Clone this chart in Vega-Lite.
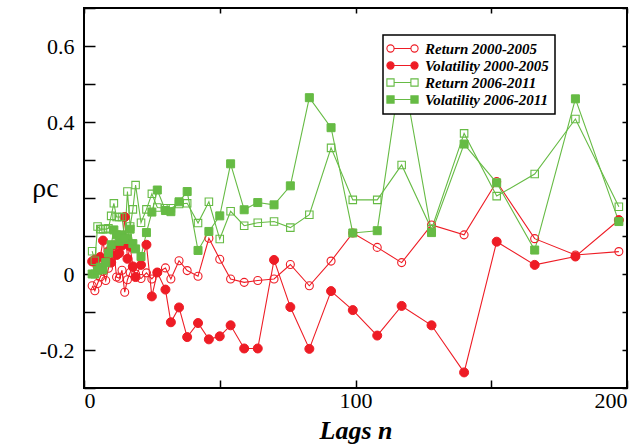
{
  "$schema": "https://vega.github.io/schema/vega-lite/v6.json",
  "width": 543,
  "height": 380,
  "autosize": {"type": "none"},
  "padding": {"left": 84, "top": 8, "right": 17, "bottom": 56},
  "config": {
    "view": {"stroke": "black", "strokeWidth": 2},
    "font": "Liberation Serif, Times New Roman, DejaVu Serif, serif",
    "axis": {"grid": false, "domain": false, "tickColor": "black", "tickWidth": 1.5, "labelFont": "Liberation Serif, Times New Roman, DejaVu Serif, serif", "labelFontSize": 22, "labelColor": "black", "titleColor": "black"}
  },
  "data": {
    "values": [
      {"n": 3, "Return 2000-2005": -0.031, "Volatility 2000-2005": 0.033, "Return 2006-2011": 0.06, "Volatility 2006-2011": 0.0},
      {"n": 4, "Return 2000-2005": -0.044, "Volatility 2000-2005": 0.038, "Return 2006-2011": 0.035, "Volatility 2006-2011": 0.0},
      {"n": 5, "Return 2000-2005": -0.025, "Volatility 2000-2005": 0.02, "Return 2006-2011": 0.125, "Volatility 2006-2011": 0.01},
      {"n": 6, "Return 2000-2005": -0.008, "Volatility 2000-2005": 0.045, "Return 2006-2011": 0.118, "Volatility 2006-2011": 0.018},
      {"n": 7, "Return 2000-2005": 0.007, "Volatility 2000-2005": 0.088, "Return 2006-2011": 0.118, "Volatility 2006-2011": 0.011},
      {"n": 8, "Return 2000-2005": -0.017, "Volatility 2000-2005": 0.036, "Return 2006-2011": 0.118, "Volatility 2006-2011": 0.03},
      {"n": 9, "Return 2000-2005": 0.015, "Volatility 2000-2005": 0.06, "Return 2006-2011": 0.12, "Volatility 2006-2011": 0.055},
      {"n": 10, "Return 2000-2005": 0.037, "Volatility 2000-2005": 0.03, "Return 2006-2011": 0.153, "Volatility 2006-2011": 0.077},
      {"n": 11, "Return 2000-2005": 0.06, "Volatility 2000-2005": 0.075, "Return 2006-2011": 0.186, "Volatility 2006-2011": 0.116},
      {"n": 12, "Return 2000-2005": -0.008, "Volatility 2000-2005": 0.05, "Return 2006-2011": 0.15, "Volatility 2006-2011": 0.103},
      {"n": 13, "Return 2000-2005": -0.011, "Volatility 2000-2005": 0.055, "Return 2006-2011": 0.15, "Volatility 2006-2011": 0.086},
      {"n": 14, "Return 2000-2005": 0.01, "Volatility 2000-2005": 0.075, "Return 2006-2011": 0.15, "Volatility 2006-2011": 0.103},
      {"n": 15, "Return 2000-2005": -0.048, "Volatility 2000-2005": 0.15, "Return 2006-2011": 0.09, "Volatility 2006-2011": 0.094},
      {"n": 16, "Return 2000-2005": -0.015, "Volatility 2000-2005": 0.04, "Return 2006-2011": 0.217, "Volatility 2006-2011": 0.094},
      {"n": 17, "Return 2000-2005": 0.004, "Volatility 2000-2005": 0.072, "Return 2006-2011": 0.125, "Volatility 2006-2011": 0.118},
      {"n": 18, "Return 2000-2005": 0.018, "Volatility 2000-2005": 0.02, "Return 2006-2011": 0.17, "Volatility 2006-2011": 0.08},
      {"n": 19, "Return 2000-2005": 0.0, "Volatility 2000-2005": -0.008, "Return 2006-2011": 0.234, "Volatility 2006-2011": 0.066},
      {"n": 21, "Return 2000-2005": -0.012, "Volatility 2000-2005": 0.024, "Return 2006-2011": 0.135, "Volatility 2006-2011": 0.046},
      {"n": 23, "Return 2000-2005": 0.003, "Volatility 2000-2005": 0.077, "Return 2006-2011": 0.17, "Volatility 2006-2011": 0.109},
      {"n": 25, "Return 2000-2005": -0.013, "Volatility 2000-2005": -0.059, "Return 2006-2011": 0.211, "Volatility 2006-2011": 0.163},
      {"n": 27, "Return 2000-2005": 0.004, "Volatility 2000-2005": 0.004, "Return 2006-2011": 0.175, "Volatility 2006-2011": 0.221},
      {"n": 30, "Return 2000-2005": 0.016, "Volatility 2000-2005": -0.041, "Return 2006-2011": 0.173, "Volatility 2006-2011": 0.167},
      {"n": 32, "Return 2000-2005": -0.013, "Volatility 2000-2005": -0.127, "Return 2006-2011": 0.173, "Volatility 2006-2011": 0.164},
      {"n": 35, "Return 2000-2005": 0.035, "Volatility 2000-2005": -0.088, "Return 2006-2011": 0.184, "Volatility 2006-2011": 0.19},
      {"n": 38, "Return 2000-2005": 0.009, "Volatility 2000-2005": -0.166, "Return 2006-2011": 0.186, "Volatility 2006-2011": 0.217},
      {"n": 42, "Return 2000-2005": -0.006, "Volatility 2000-2005": -0.129, "Return 2006-2011": 0.134, "Volatility 2006-2011": 0.062},
      {"n": 46, "Return 2000-2005": 0.094, "Volatility 2000-2005": -0.172, "Return 2006-2011": 0.19, "Volatility 2006-2011": 0.112},
      {"n": 50, "Return 2000-2005": 0.039, "Volatility 2000-2005": -0.164, "Return 2006-2011": 0.092, "Volatility 2006-2011": 0.153},
      {"n": 54, "Return 2000-2005": -0.013, "Volatility 2000-2005": -0.135, "Return 2006-2011": 0.165, "Volatility 2006-2011": 0.29},
      {"n": 59, "Return 2000-2005": -0.022, "Volatility 2000-2005": -0.196, "Return 2006-2011": 0.127, "Volatility 2006-2011": 0.169},
      {"n": 64, "Return 2000-2005": -0.017, "Volatility 2000-2005": -0.196, "Return 2006-2011": 0.135, "Volatility 2006-2011": 0.188},
      {"n": 70, "Return 2000-2005": -0.013, "Volatility 2000-2005": 0.037, "Return 2006-2011": 0.138, "Volatility 2006-2011": 0.182},
      {"n": 76, "Return 2000-2005": 0.025, "Volatility 2000-2005": -0.087, "Return 2006-2011": 0.122, "Volatility 2006-2011": 0.232},
      {"n": 83, "Return 2000-2005": -0.031, "Volatility 2000-2005": -0.197, "Return 2006-2011": 0.156, "Volatility 2006-2011": 0.464},
      {"n": 91, "Return 2000-2005": 0.034, "Volatility 2000-2005": -0.045, "Return 2006-2011": 0.332, "Volatility 2006-2011": 0.385},
      {"n": 99, "Return 2000-2005": 0.108, "Volatility 2000-2005": -0.095, "Return 2006-2011": 0.195, "Volatility 2006-2011": 0.108},
      {"n": 108, "Return 2000-2005": 0.07, "Volatility 2000-2005": -0.162, "Return 2006-2011": 0.195, "Volatility 2006-2011": 0.114},
      {"n": 117, "Return 2000-2005": 0.03, "Volatility 2000-2005": -0.084, "Return 2006-2011": 0.287, "Volatility 2006-2011": 0.55},
      {"n": 128, "Return 2000-2005": 0.129, "Volatility 2000-2005": -0.135, "Return 2006-2011": 0.118, "Volatility 2006-2011": 0.109},
      {"n": 140, "Return 2000-2005": 0.103, "Volatility 2000-2005": -0.259, "Return 2006-2011": 0.37, "Volatility 2006-2011": 0.342},
      {"n": 152, "Return 2000-2005": 0.243, "Volatility 2000-2005": 0.085, "Return 2006-2011": 0.205, "Volatility 2006-2011": 0.24},
      {"n": 166, "Return 2000-2005": 0.093, "Volatility 2000-2005": 0.024, "Return 2006-2011": 0.263, "Volatility 2006-2011": 0.063},
      {"n": 181, "Return 2000-2005": 0.05, "Volatility 2000-2005": 0.046, "Return 2006-2011": 0.408, "Volatility 2006-2011": 0.461},
      {"n": 197, "Return 2000-2005": 0.059, "Volatility 2000-2005": 0.142, "Return 2006-2011": 0.177, "Volatility 2006-2011": 0.138}
    ]
  },
  "transform": [
    {"fold": ["Return 2000-2005", "Volatility 2000-2005", "Return 2006-2011", "Volatility 2006-2011"], "as": ["series", "rho"]}
  ],
  "layer": [
    {
      "mark": {"type": "line", "strokeWidth": 1.1},
      "encoding": {
        "x": {
          "field": "n", "type": "quantitative",
          "scale": {"domain": [0, 200], "nice": false, "zero": false},
          "axis": {
            "orient": "bottom", "values": [0, 50, 100, 150, 200],
            "labelExpr": "datum.value % 100 == 0 ? datum.label : ''",
            "labelFont": "Liberation Serif, Times New Roman, DejaVu Serif, serif", "labelFontSize": 22,
            "tickSize": -8, "labelPadding": 10,
            "title": "Lags n", "titleFont": "Liberation Serif, Times New Roman, serif", "titleFontSize": 26, "titleFontWeight": "bold", "titleFontStyle": "italic", "titlePadding": 6
          }
        },
        "y": {
          "field": "rho", "type": "quantitative",
          "scale": {"domain": [-0.3, 0.7], "nice": false, "zero": false},
          "axis": {
            "orient": "left", "values": [-0.3, -0.2, -0.1, 0, 0.1, 0.2, 0.3, 0.4, 0.5, 0.6, 0.7],
            "labelExpr": "(round(datum.value * 10) % 2 != 0 || round(datum.value * 10) == 2) ? '' : (datum.value == 0 ? '0' : (datum.value < 0 ? '-' + format(-datum.value, '.1f') : format(datum.value, '.1f')))",
            "labelFont": "Liberation Serif, Times New Roman, DejaVu Serif, serif", "labelFontSize": 22,
            "tickSize": -11, "labelPadding": 21,
            "title": "ρc", "titleFont": "Liberation Serif, Times New Roman, DejaVu Serif, serif", "titleAngle": 0, "titleX": -39, "titleY": 180, "titleFontSize": 28, "titleFontWeight": "normal", "titleAlign": "center", "titleBaseline": "middle"
          }
        },
        "color": {
          "field": "series", "type": "nominal",
          "scale": {"domain": ["Return 2000-2005", "Volatility 2000-2005", "Return 2006-2011", "Volatility 2006-2011"], "range": ["#ee1c25", "#ee1c25", "#66bb44", "#66bb44"]},
          "legend": {
            "orient": "none", "legendX": 299, "legendY": 27, "title": null,
            "fillColor": "white", "strokeColor": "black", "padding": 6,
            "labelFont": "Liberation Serif", "labelFontSize": 15, "labelFontWeight": "bold", "labelFontStyle": "italic", "labelColor": "black",
            "symbolSize": 144, "symbolStrokeWidth": 1.1, "symbolOffset": 6, "labelOffset": 15, "rowPadding": 1,
            "encode": {
              "legend": {"update": {"strokeWidth": {"value": 1.5}}},
              "symbols": {
                "update": {
                  "size": {"value": 144},
                  "shape": {"signal": "indexof(datum.value, '2000') >= 0 ? 'M -1.4 0 A 0.6 0.6 0 1 1 -2.6 0 A 0.6 0.6 0 1 1 -1.4 0 Z M 2.6 0 A 0.6 0.6 0 1 1 1.4 0 A 0.6 0.6 0 1 1 2.6 0 Z M -1.4 0 L 1.4 0' : 'M -2.6 -0.6 H -1.4 V 0.6 H -2.6 Z M 1.4 -0.6 H 2.6 V 0.6 H 1.4 Z M -1.4 0 L 1.4 0'"},
                  "fill": {"signal": "indexof(datum.value, 'Volatility') == 0 ? (indexof(datum.value, '2000') >= 0 ? '#ee1c25' : '#66bb44') : 'white'"},
                  "stroke": {"signal": "indexof(datum.value, '2000') >= 0 ? '#ee1c25' : '#66bb44'"},
                  "strokeWidth": {"value": 1.1}
                }
              }
            }
          }
        }
      }
    },
    {
      "transform": [{"filter": {"field": "series", "equal": "Return 2000-2005"}}],
      "mark": {"type": "point", "shape": "circle", "size": 64, "opacity": 1, "strokeWidth": 1.1, "stroke": "#ee1c25", "fill": "transparent", "filled": false},
      "encoding": {
        "x": {"field": "n", "type": "quantitative", "scale": {"domain": [0, 200], "nice": false, "zero": false}, "axis": {"orient": "top", "values": [0, 50, 100, 150, 200], "labels": false, "tickSize": -5, "title": null}},
        "y": {"field": "rho", "type": "quantitative", "scale": {"domain": [-0.3, 0.7], "nice": false, "zero": false}, "axis": {"orient": "right", "values": [-0.3, -0.2, -0.1, 0, 0.1, 0.2, 0.3, 0.4, 0.5, 0.6, 0.7], "labels": false, "tickSize": -5, "title": null}}
      }
    },
    {
      "transform": [{"filter": {"field": "series", "equal": "Volatility 2000-2005"}}],
      "mark": {"type": "point", "shape": "circle", "size": 81, "opacity": 1, "strokeWidth": 1, "stroke": "#ee1c25", "fill": "#ee1c25", "filled": true},
      "encoding": {
        "x": {"field": "n", "type": "quantitative", "axis": null},
        "y": {"field": "rho", "type": "quantitative", "axis": null}
      }
    },
    {
      "transform": [{"filter": {"field": "series", "equal": "Return 2006-2011"}}],
      "mark": {"type": "point", "shape": "square", "size": 56, "opacity": 1, "strokeWidth": 1.1, "stroke": "#66bb44", "fill": "transparent", "filled": false},
      "encoding": {
        "x": {"field": "n", "type": "quantitative", "axis": null},
        "y": {"field": "rho", "type": "quantitative", "axis": null}
      }
    },
    {
      "transform": [{"filter": {"field": "series", "equal": "Volatility 2006-2011"}}],
      "mark": {"type": "point", "shape": "square", "size": 64, "opacity": 1, "strokeWidth": 1, "stroke": "#66bb44", "fill": "#66bb44", "filled": true},
      "encoding": {
        "x": {"field": "n", "type": "quantitative", "axis": null},
        "y": {"field": "rho", "type": "quantitative", "axis": null}
      }
    }
  ],
  "resolve": {"axis": {"x": "independent", "y": "independent"}}
}
